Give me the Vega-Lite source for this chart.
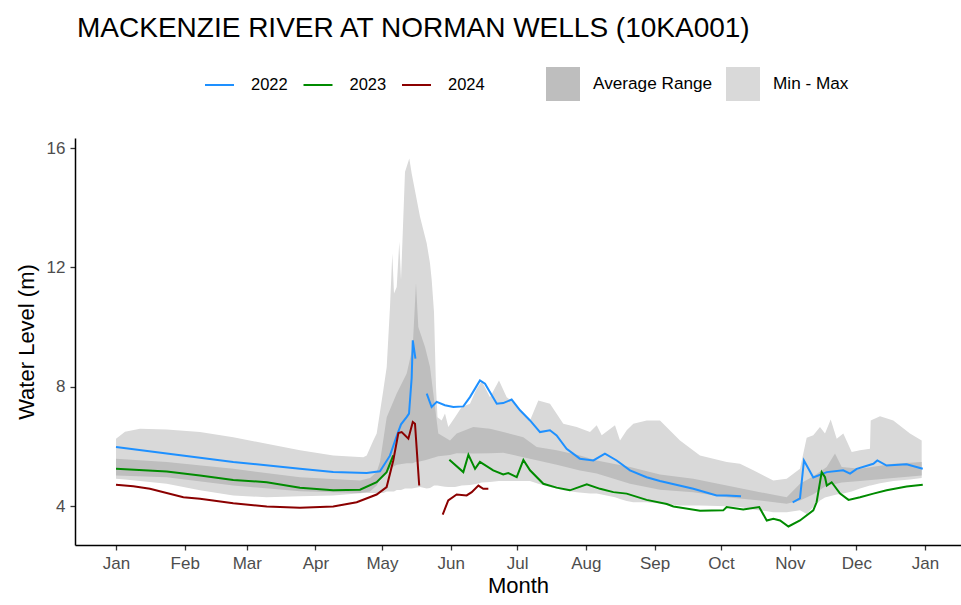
{
  "$schema": "https://vega.github.io/schema/vega-lite/v6.json",
  "autosize": {"type": "none"},
  "width": 886,
  "height": 407,
  "padding": {"left": 75, "top": 138, "right": 0, "bottom": 60},
  "background": "white",
  "title": {"text": "MACKENZIE RIVER AT NORMAN WELLS (10KA001)", "anchor": "start", "frame": "group", "fontSize": 28, "fontWeight": "normal", "color": "black", "font": "Liberation Sans", "offset": 24, "dx": 2},
  "config": {
    "view": {"stroke": null},
    "font": "Liberation Sans",
    "axis": {"grid": false, "domainColor": "black", "domainWidth": 1.5, "tickColor": "#333333", "tickWidth": 1.3, "tickSize": 5, "labelFontSize": 17, "labelColor": "#4d4d4d", "titleFontSize": 22, "titleFontWeight": "normal", "titleColor": "black", "labelFont": "Liberation Sans", "titleFont": "Liberation Sans"}
  },
  "datasets": {
    "bands": [
      {"band":"Min - Max","day":0,"lo":4.93,"hi":6.27},{"band":"Min - Max","day":4.06,"lo":4.9,"hi":6.5},{"band":"Min - Max","day":10.83,"lo":4.85,"hi":6.6},{"band":"Min - Max","day":22.87,"lo":4.76,"hi":6.58},{"band":"Min - Max","day":37.9,"lo":4.54,"hi":6.49},{"band":"Min - Max","day":52.92,"lo":4.37,"hi":6.32},{"band":"Min - Max","day":67.99,"lo":4.31,"hi":6.1},{"band":"Min - Max","day":83.02,"lo":4.34,"hi":5.88},{"band":"Min - Max","day":98.04,"lo":4.37,"hi":5.71},{"band":"Min - Max","day":111.58,"lo":4.45,"hi":5.65},{"band":"Min - Max","day":113.11,"lo":4.45,"hi":5.71},{"band":"Min - Max","day":116.09,"lo":4.45,"hi":6.21},{"band":"Min - Max","day":117.62,"lo":4.45,"hi":6.44},{"band":"Min - Max","day":120.6,"lo":4.45,"hi":7.89},{"band":"Min - Max","day":122.14,"lo":4.5,"hi":8.67},{"band":"Min - Max","day":123.62,"lo":4.5,"hi":10.68},{"band":"Min - Max","day":124.66,"lo":4.5,"hi":12.47},{"band":"Min - Max","day":125.43,"lo":4.5,"hi":11.13},{"band":"Min - Max","day":126.65,"lo":4.55,"hi":11.35},{"band":"Min - Max","day":127.82,"lo":4.55,"hi":12.86},{"band":"Min - Max","day":128.59,"lo":4.55,"hi":11.58},{"band":"Min - Max","day":130.39,"lo":4.6,"hi":15.2},{"band":"Min - Max","day":132.33,"lo":4.6,"hi":15.65},{"band":"Min - Max","day":133.41,"lo":4.6,"hi":15.15},{"band":"Min - Max","day":137.16,"lo":4.65,"hi":13.7},{"band":"Min - Max","day":140.18,"lo":4.6,"hi":12.81},{"band":"Min - Max","day":141.67,"lo":4.62,"hi":12.14},{"band":"Min - Max","day":142.44,"lo":4.65,"hi":11.58},{"band":"Min - Max","day":143.48,"lo":4.7,"hi":10.5},{"band":"Min - Max","day":144.38,"lo":4.7,"hi":8.0},{"band":"Min - Max","day":145.05,"lo":4.7,"hi":6.99},{"band":"Min - Max","day":146.95,"lo":4.68,"hi":6.88},{"band":"Min - Max","day":148.44,"lo":4.66,"hi":7.11},{"band":"Min - Max","day":149.93,"lo":4.65,"hi":6.66},{"band":"Min - Max","day":152.95,"lo":4.65,"hi":6.99},{"band":"Min - Max","day":155.97,"lo":4.7,"hi":7.33},{"band":"Min - Max","day":159.72,"lo":4.72,"hi":7.44},{"band":"Min - Max","day":162.43,"lo":4.75,"hi":7.9},{"band":"Min - Max","day":165.0,"lo":4.8,"hi":8.2},{"band":"Min - Max","day":168.74,"lo":4.82,"hi":7.66},{"band":"Min - Max","day":172.8,"lo":4.85,"hi":8.22},{"band":"Min - Max","day":176.28,"lo":4.85,"hi":7.66},{"band":"Min - Max","day":180.02,"lo":4.85,"hi":7.44},{"band":"Min - Max","day":183.77,"lo":4.85,"hi":7.11},{"band":"Min - Max","day":186.79,"lo":4.85,"hi":6.88},{"band":"Min - Max","day":190.54,"lo":4.76,"hi":7.55},{"band":"Min - Max","day":195.81,"lo":4.65,"hi":7.44},{"band":"Min - Max","day":201.81,"lo":4.54,"hi":6.77},{"band":"Min - Max","day":207.86,"lo":4.48,"hi":6.66},{"band":"Min - Max","day":213.86,"lo":4.43,"hi":6.49},{"band":"Min - Max","day":216.88,"lo":4.43,"hi":6.72},{"band":"Min - Max","day":219.14,"lo":4.4,"hi":6.38},{"band":"Min - Max","day":225.14,"lo":4.31,"hi":6.72},{"band":"Min - Max","day":227.4,"lo":4.25,"hi":6.21},{"band":"Min - Max","day":230.42,"lo":4.18,"hi":6.55},{"band":"Min - Max","day":233.4,"lo":4.14,"hi":6.77},{"band":"Min - Max","day":239.44,"lo":4.14,"hi":6.88},{"band":"Min - Max","day":245.44,"lo":4.1,"hi":6.88},{"band":"Min - Max","day":254.47,"lo":4.03,"hi":6.21},{"band":"Min - Max","day":263.49,"lo":4.03,"hi":5.71},{"band":"Min - Max","day":275.54,"lo":4.01,"hi":5.49},{"band":"Min - Max","day":281.54,"lo":3.98,"hi":5.43},{"band":"Min - Max","day":287.55,"lo":3.9,"hi":5.21},{"band":"Min - Max","day":296.56,"lo":3.81,"hi":4.87},{"band":"Min - Max","day":302.61,"lo":3.81,"hi":4.93},{"band":"Min - Max","day":308.61,"lo":3.87,"hi":5.26},{"band":"Min - Max","day":311.63,"lo":3.75,"hi":6.3},{"band":"Min - Max","day":314.61,"lo":3.98,"hi":6.38},{"band":"Min - Max","day":317.63,"lo":4.2,"hi":6.66},{"band":"Min - Max","day":319.89,"lo":4.3,"hi":6.44},{"band":"Min - Max","day":322.46,"lo":4.35,"hi":6.91},{"band":"Min - Max","day":325.17,"lo":4.4,"hi":6.27},{"band":"Min - Max","day":328.15,"lo":4.43,"hi":6.44},{"band":"Min - Max","day":331.94,"lo":4.5,"hi":5.82},{"band":"Min - Max","day":335.68,"lo":4.6,"hi":5.88},{"band":"Min - Max","day":340.19,"lo":4.7,"hi":5.93},{"band":"Min - Max","day":340.51,"lo":4.7,"hi":6.88},{"band":"Min - Max","day":344.71,"lo":4.78,"hi":7.02},{"band":"Min - Max","day":350.71,"lo":4.85,"hi":6.88},{"band":"Min - Max","day":358.23,"lo":4.9,"hi":6.44},{"band":"Min - Max","day":363.51,"lo":4.95,"hi":6.21},
      {"band":"Average Range","day":0,"lo":5.04,"hi":5.6},{"band":"Average Range","day":22.87,"lo":4.98,"hi":5.49},{"band":"Average Range","day":52.92,"lo":4.7,"hi":5.26},{"band":"Average Range","day":83.02,"lo":4.51,"hi":4.98},{"band":"Average Range","day":110.09,"lo":4.45,"hi":4.87},{"band":"Average Range","day":114.6,"lo":4.5,"hi":4.95},{"band":"Average Range","day":117.62,"lo":4.7,"hi":5.15},{"band":"Average Range","day":119.11,"lo":4.9,"hi":5.5},{"band":"Average Range","day":122.14,"lo":5.2,"hi":6.99},{"band":"Average Range","day":126.65,"lo":5.4,"hi":7.78},{"band":"Average Range","day":131.16,"lo":5.45,"hi":8.45},{"band":"Average Range","day":133.87,"lo":5.45,"hi":9.34},{"band":"Average Range","day":135.35,"lo":5.5,"hi":11.47},{"band":"Average Range","day":136.39,"lo":5.5,"hi":10.01},{"band":"Average Range","day":139.42,"lo":5.55,"hi":9.34},{"band":"Average Range","day":141.67,"lo":5.6,"hi":8.67},{"band":"Average Range","day":143.93,"lo":5.65,"hi":7.33},{"band":"Average Range","day":145.42,"lo":5.68,"hi":6.44},{"band":"Average Range","day":150.7,"lo":5.72,"hi":6.21},{"band":"Average Range","day":153.72,"lo":5.78,"hi":6.44},{"band":"Average Range","day":161.21,"lo":5.77,"hi":6.66},{"band":"Average Range","day":168.74,"lo":5.78,"hi":6.6},{"band":"Average Range","day":174.74,"lo":5.8,"hi":6.49},{"band":"Average Range","day":183.77,"lo":5.65,"hi":6.32},{"band":"Average Range","day":189.81,"lo":5.55,"hi":5.99},{"band":"Average Range","day":198.84,"lo":5.4,"hi":5.88},{"band":"Average Range","day":209.35,"lo":5.2,"hi":5.71},{"band":"Average Range","day":216.88,"lo":5.1,"hi":5.54},{"band":"Average Range","day":231.91,"lo":4.76,"hi":5.32},{"band":"Average Range","day":245.44,"lo":4.56,"hi":5.07},{"band":"Average Range","day":260.47,"lo":4.48,"hi":4.93},{"band":"Average Range","day":275.54,"lo":4.31,"hi":4.7},{"band":"Average Range","day":290.57,"lo":4.2,"hi":4.48},{"band":"Average Range","day":302.61,"lo":4.09,"hi":4.31},{"band":"Average Range","day":308.61,"lo":4.2,"hi":4.76},{"band":"Average Range","day":314.47,"lo":4.4,"hi":5.0},{"band":"Average Range","day":320.66,"lo":4.7,"hi":5.32},{"band":"Average Range","day":324.4,"lo":4.75,"hi":5.77},{"band":"Average Range","day":327.43,"lo":4.8,"hi":5.32},{"band":"Average Range","day":335.68,"lo":4.85,"hi":5.26},{"band":"Average Range","day":350.71,"lo":4.95,"hi":5.43},{"band":"Average Range","day":363.51,"lo":5.04,"hi":5.49}
    ],
    "lines": [
      {"year":"2022","seg":1,"day":0,"level":5.99},{"year":"2022","seg":1,"day":22.9,"level":5.77},{"year":"2022","seg":1,"day":52.9,"level":5.49},{"year":"2022","seg":1,"day":83,"level":5.26},{"year":"2022","seg":1,"day":98,"level":5.15},{"year":"2022","seg":1,"day":113.1,"level":5.12},{"year":"2022","seg":1,"day":119.1,"level":5.18},{"year":"2022","seg":1,"day":123.6,"level":5.7},{"year":"2022","seg":1,"day":126.6,"level":6.35},{"year":"2022","seg":1,"day":128.6,"level":6.75},{"year":"2022","seg":1,"day":131.2,"level":7.0},{"year":"2022","seg":1,"day":132.2,"level":7.11},{"year":"2022","seg":1,"day":133.4,"level":8.3},{"year":"2022","seg":1,"day":133.9,"level":9.56},{"year":"2022","seg":1,"day":135.1,"level":8.95},
      {"year":"2022","seg":2,"day":140.2,"level":7.78},{"year":"2022","seg":2,"day":142.4,"level":7.33},{"year":"2022","seg":2,"day":144.7,"level":7.5},{"year":"2022","seg":2,"day":148.4,"level":7.39},{"year":"2022","seg":2,"day":152.2,"level":7.33},{"year":"2022","seg":2,"day":156.7,"level":7.35},{"year":"2022","seg":2,"day":159.7,"level":7.66},{"year":"2022","seg":2,"day":164.2,"level":8.22},{"year":"2022","seg":2,"day":166.5,"level":8.11},{"year":"2022","seg":2,"day":171.8,"level":7.44},{"year":"2022","seg":2,"day":174.7,"level":7.46},{"year":"2022","seg":2,"day":178.5,"level":7.58},{"year":"2022","seg":2,"day":182.3,"level":7.22},{"year":"2022","seg":2,"day":186.8,"level":6.88},{"year":"2022","seg":2,"day":191.3,"level":6.49},{"year":"2022","seg":2,"day":195.8,"level":6.55},{"year":"2022","seg":2,"day":198.8,"level":6.38},{"year":"2022","seg":2,"day":203.3,"level":5.93},{"year":"2022","seg":2,"day":209.3,"level":5.6},{"year":"2022","seg":2,"day":215.4,"level":5.54},{"year":"2022","seg":2,"day":220.6,"level":5.77},{"year":"2022","seg":2,"day":225.9,"level":5.54},{"year":"2022","seg":2,"day":231.9,"level":5.21},{"year":"2022","seg":2,"day":239.4,"level":4.98},{"year":"2022","seg":2,"day":245.4,"level":4.85},{"year":"2022","seg":2,"day":260.5,"level":4.59},{"year":"2022","seg":2,"day":271,"level":4.37},{"year":"2022","seg":2,"day":275.5,"level":4.37},{"year":"2022","seg":2,"day":282,"level":4.34},
      {"year":"2022","seg":3,"day":305.3,"level":4.14},{"year":"2022","seg":3,"day":308.6,"level":4.27},{"year":"2022","seg":3,"day":310.4,"level":5.54},{"year":"2022","seg":3,"day":314.6,"level":4.97},{"year":"2022","seg":3,"day":320.7,"level":5.15},{"year":"2022","seg":3,"day":328.1,"level":5.21},{"year":"2022","seg":3,"day":331.2,"level":5.1},{"year":"2022","seg":3,"day":334.2,"level":5.26},{"year":"2022","seg":3,"day":341.7,"level":5.43},{"year":"2022","seg":3,"day":343.5,"level":5.54},{"year":"2022","seg":3,"day":347.7,"level":5.37},{"year":"2022","seg":3,"day":356.7,"level":5.41},{"year":"2022","seg":3,"day":364,"level":5.26},
      {"year":"2023","seg":1,"day":0,"level":5.26},{"year":"2023","seg":1,"day":22.9,"level":5.17},{"year":"2023","seg":1,"day":37.9,"level":5.04},{"year":"2023","seg":1,"day":52.9,"level":4.89},{"year":"2023","seg":1,"day":68,"level":4.81},{"year":"2023","seg":1,"day":83,"level":4.63},{"year":"2023","seg":1,"day":98,"level":4.54},{"year":"2023","seg":1,"day":110.1,"level":4.56},{"year":"2023","seg":1,"day":117.6,"level":4.81},{"year":"2023","seg":1,"day":122.1,"level":5.15},{"year":"2023","seg":1,"day":125.1,"level":5.71},
      {"year":"2023","seg":2,"day":150.4,"level":5.56},{"year":"2023","seg":2,"day":156.7,"level":5.15},{"year":"2023","seg":2,"day":159,"level":5.73},{"year":"2023","seg":2,"day":162,"level":5.26},{"year":"2023","seg":2,"day":164.2,"level":5.49},{"year":"2023","seg":2,"day":170.2,"level":5.21},{"year":"2023","seg":2,"day":174.7,"level":5.07},{"year":"2023","seg":2,"day":177,"level":5.12},{"year":"2023","seg":2,"day":180.8,"level":4.98},{"year":"2023","seg":2,"day":183.8,"level":5.56},{"year":"2023","seg":2,"day":186.8,"level":5.21},{"year":"2023","seg":2,"day":192.8,"level":4.76},{"year":"2023","seg":2,"day":198.8,"level":4.63},{"year":"2023","seg":2,"day":204.8,"level":4.54},{"year":"2023","seg":2,"day":212.4,"level":4.74},{"year":"2023","seg":2,"day":218.4,"level":4.59},{"year":"2023","seg":2,"day":224.4,"level":4.48},{"year":"2023","seg":2,"day":230.4,"level":4.43},{"year":"2023","seg":2,"day":239.4,"level":4.22},{"year":"2023","seg":2,"day":248.5,"level":4.08},{"year":"2023","seg":2,"day":251.5,"level":4.0},{"year":"2023","seg":2,"day":263.5,"level":3.86},{"year":"2023","seg":2,"day":274,"level":3.87},{"year":"2023","seg":2,"day":275.5,"level":3.98},{"year":"2023","seg":2,"day":283,"level":3.9},{"year":"2023","seg":2,"day":290.2,"level":3.98},{"year":"2023","seg":2,"day":293.6,"level":3.53},{"year":"2023","seg":2,"day":296.6,"level":3.59},{"year":"2023","seg":2,"day":299.6,"level":3.53},{"year":"2023","seg":2,"day":303.4,"level":3.33},{"year":"2023","seg":2,"day":308.6,"level":3.53},{"year":"2023","seg":2,"day":314.6,"level":3.87},{"year":"2023","seg":2,"day":316.1,"level":4.14},{"year":"2023","seg":2,"day":318.4,"level":5.15},{"year":"2023","seg":2,"day":319.9,"level":4.98},{"year":"2023","seg":2,"day":320.7,"level":4.7},{"year":"2023","seg":2,"day":322.9,"level":4.81},{"year":"2023","seg":2,"day":326.7,"level":4.43},{"year":"2023","seg":2,"day":330.5,"level":4.22},{"year":"2023","seg":2,"day":335.7,"level":4.31},{"year":"2023","seg":2,"day":341.7,"level":4.43},{"year":"2023","seg":2,"day":347.7,"level":4.54},{"year":"2023","seg":2,"day":356.7,"level":4.67},{"year":"2023","seg":2,"day":364,"level":4.73},
      {"year":"2024","seg":1,"day":0,"level":4.73},{"year":"2024","seg":1,"day":7.8,"level":4.68},{"year":"2024","seg":1,"day":15.3,"level":4.59},{"year":"2024","seg":1,"day":30.4,"level":4.31},{"year":"2024","seg":1,"day":37.9,"level":4.26},{"year":"2024","seg":1,"day":52.9,"level":4.11},{"year":"2024","seg":1,"day":68,"level":4.0},{"year":"2024","seg":1,"day":83,"level":3.96},{"year":"2024","seg":1,"day":98,"level":4.0},{"year":"2024","seg":1,"day":108.6,"level":4.14},{"year":"2024","seg":1,"day":117.6,"level":4.4},{"year":"2024","seg":1,"day":122.1,"level":4.65},{"year":"2024","seg":1,"day":125.1,"level":5.54},{"year":"2024","seg":1,"day":127.4,"level":6.46},{"year":"2024","seg":1,"day":128.9,"level":6.49},{"year":"2024","seg":1,"day":131.9,"level":6.27},{"year":"2024","seg":1,"day":133.9,"level":6.83},{"year":"2024","seg":1,"day":134.9,"level":6.77},{"year":"2024","seg":1,"day":136.8,"level":4.7},
      {"year":"2024","seg":2,"day":147.4,"level":3.73},{"year":"2024","seg":2,"day":149.9,"level":4.2},{"year":"2024","seg":2,"day":153.7,"level":4.4},{"year":"2024","seg":2,"day":158.2,"level":4.37},{"year":"2024","seg":2,"day":160.5,"level":4.48},{"year":"2024","seg":2,"day":163.5,"level":4.7},{"year":"2024","seg":2,"day":165.7,"level":4.59},{"year":"2024","seg":2,"day":168,"level":4.59}
    ]
  },
  "layer": [
    {
      "data": {"name": "bands"},
      "transform": [{"filter": "datum.band == 'Min - Max'"}],
      "mark": {"type": "area", "opacity": 1},
      "encoding": {
        "x": {"field": "day", "type": "quantitative", "title": "Month", "scale": {"domain": [-18.5, 381.25], "nice": false, "zero": false},
              "axis": {"values": [0,31,59,90,120,151,181,212,243,273,304,334,365], "labelExpr": "timeFormat(datetime(2023,0,1+datum.value),'%b')", "labelFlush": false, "labelOverlap": false, "labelPadding": 5, "titlePadding": 4}},
        "y": {"field": "lo", "type": "quantitative", "title": "Water Level (m)", "scale": {"domain": [2.71, 16.335], "nice": false, "zero": false},
              "axis": {"values": [4, 8, 12, 16], "labelPadding": 5, "titlePadding": 8}},
        "y2": {"field": "hi"},
        "fill": {"field": "band", "type": "nominal", "scale": {"domain": ["Average Range", "Min - Max"], "range": ["#BEBEBE", "#D9D9D9"]},
                 "legend": {"title": null, "orient": "none", "direction": "horizontal", "legendX": 471, "legendY": -71, "symbolType": "square", "symbolSize": 1156, "symbolStrokeWidth": 0, "symbolOpacity": 1, "labelOffset": 13, "columnPadding": 13, "labelFontSize": 17.2, "labelColor": "black", "labelFont": "Liberation Sans", "padding": 0}}
      }
    },
    {
      "data": {"name": "bands"},
      "transform": [{"filter": "datum.band == 'Average Range'"}],
      "mark": {"type": "area", "opacity": 1},
      "encoding": {
        "x": {"field": "day", "type": "quantitative", "title": "Month"},
        "y": {"field": "lo", "type": "quantitative", "title": "Water Level (m)"},
        "y2": {"field": "hi"},
        "fill": {"field": "band", "type": "nominal"}
      }
    },
    {
      "data": {"name": "lines"},
      "mark": {"type": "line", "strokeWidth": 2},
      "encoding": {
        "x": {"field": "day", "type": "quantitative", "title": "Month"},
        "y": {"field": "level", "type": "quantitative", "title": "Water Level (m)"},
        "detail": {"field": "seg"},
        "stroke": {"field": "year", "type": "nominal", "scale": {"domain": ["2022", "2023", "2024"], "range": ["#1E90FF", "#008B00", "#8B0000"]},
                   "legend": {"title": null, "orient": "none", "direction": "horizontal", "legendX": 129, "legendY": -68.5, "symbolType": "stroke", "symbolSize": 841, "symbolStrokeWidth": 2, "labelOffset": 16, "columnPadding": 11.5, "labelFontSize": 16.5, "labelColor": "black", "labelFont": "Liberation Sans", "padding": 0}}
      }
    }
  ]
}
